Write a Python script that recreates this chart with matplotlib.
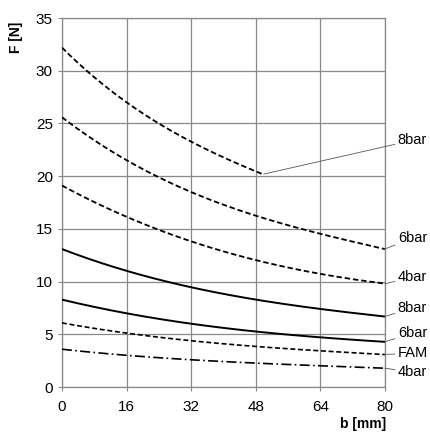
import numpy as np
import matplotlib.pyplot as plt

plt.rcParams['font.family'] = ['Liberation Sans', 'DejaVu Sans']

# Values
b_full = [0, 16, 32, 48, 64, 80]
b_top = [0, 16, 32, 48, 50]

f_8bar_dash = [32.2, 27.0, 23.3, 20.4, 20.2]
f_6bar_dash = [25.6, 21.5, 18.5, 16.3, 14.5, 13.1]
f_4bar_dash = [19.1, 16.2, 13.8, 12.0, 10.8, 9.8]
f_8bar_solid = [13.1, 11.0, 9.5, 8.3, 7.4, 6.7]
f_6bar_solid = [8.3, 7.0, 6.0, 5.3, 4.7, 4.3]
f_fam = [6.1, 5.1, 4.4, 3.9, 3.4, 3.1]
f_4bar_dashdot = [3.6, 3.0, 2.6, 2.3, 2.0, 1.8]

labels = ["8bar", "6bar", "4bar", "8bar", "6bar", "FAM", "4bar"]
label_y = [23.4, 14.1, 10.4, 7.5, 5.1, 3.2, 1.4]


def smooth(x, y):
    xs = np.linspace(x[0], x[-1], 200)
    k = min(3, len(x) - 1)
    coef = np.polyfit(x, y, k)
    return xs, np.polyval(coef, xs)


fig = plt.figure(figsize=(4.30, 4.34), dpi=100)
ax = fig.add_axes([0.144, 0.108, 0.751, 0.8505])

series = [
    (b_top, f_8bar_dash, (0, (3, 1.6)), 1.3),
    (b_full, f_6bar_dash, (0, (3, 1.6)), 1.3),
    (b_full, f_4bar_dash, (0, (3, 1.6)), 1.3),
    (b_full, f_8bar_solid, '-', 1.4),
    (b_full, f_6bar_solid, '-', 1.4),
    (b_full, f_fam, (0, (3, 1.6)), 1.2),
    (b_full, f_4bar_dashdot, (0, (6, 2, 1, 2)), 1.2),
]

for x, y, ls, lw in series:
    xs, ys = smooth(x, y)
    ax.plot(xs, ys, color='black', linestyle=ls, linewidth=lw, zorder=3)

# Leader lines and labels
ends = [(b_top[-1], f_8bar_dash[-1])] + [(80, s[1][-1]) for s in series[1:]]
for (xe, ye), txt, ly in zip(ends, labels, label_y):
    ax.annotate(txt, xy=(xe, ye), xytext=(83.2, ly), fontsize=10.5,
                va='center', ha='left', annotation_clip=False,
                arrowprops=dict(arrowstyle='-', color='#555555', lw=0.6,
                                shrinkA=0, shrinkB=0))

ax.set_xlim(0, 80)
ax.set_ylim(0, 35)
ax.set_xticks(np.arange(0, 81, 16))
ax.set_yticks(np.arange(0, 36, 5))
ax.grid(True, color='#888888', linewidth=0.9)
for s in ax.spines.values():
    s.set_color('#888888')
    s.set_linewidth(0.9)
ax.tick_params(colors='#888888', labelcolor='black', labelsize=11, length=3)
ax.tick_params(axis='x', pad=6)

fig.text(0.037, 0.915, "F [N]", rotation=90, fontsize=10, fontweight='bold',
         ha='center', va='center')
fig.text(0.845, 0.023, "b [mm]", fontsize=10, fontweight='bold',
         ha='center', va='center')

fig.savefig("out.png", dpi=100)
